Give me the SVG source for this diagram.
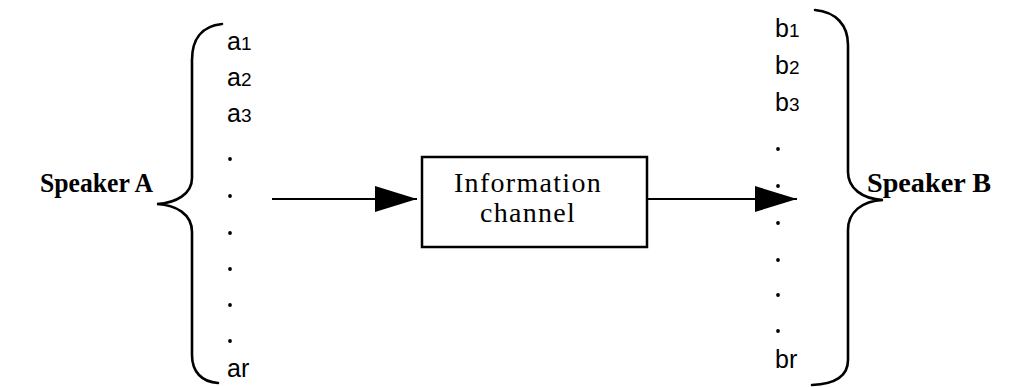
<svg xmlns="http://www.w3.org/2000/svg" width="1022" height="387" viewBox="0 0 1022 387">
<style>
.brace{fill:none;stroke:#000;stroke-width:2.6;stroke-linecap:round}
.item{font-family:"Liberation Sans",Arial,sans-serif;font-size:25px;fill:#000}
.sub{font-size:19px}
.spk{font-family:"Liberation Serif","Times New Roman",serif;font-size:28px;font-weight:bold;fill:#000}
.box{fill:#fff;stroke:#000;stroke-width:2.5}
.lbl{font-family:"Liberation Serif","Times New Roman",serif;font-size:28px;letter-spacing:1.3px;fill:#000;text-anchor:middle}
.edge{stroke:#000;stroke-width:2.2;fill:none}
.dot{fill:#000}
</style>
<defs>
<marker id="ah" viewBox="0 0 42 26" refX="42" refY="13" markerWidth="42" markerHeight="26" markerUnits="userSpaceOnUse" orient="auto">
<path d="M0,0 L42,13 L0,26 z" fill="#000"/>
</marker>
</defs>
<g id="speakerA">
<text class="spk" x="40" y="192" textLength="113" lengthAdjust="spacingAndGlyphs">Speaker A</text>
<path class="brace" d="M222,24 C201,26 192,40 192,60 L192,178 C192,194 176,203 157,204 C176,205 192,214 192,232 L192,355 C192,372 202,382 218,383"/>
<text class="item" x="227" y="50">a<tspan class="sub">1</tspan></text>
<text class="item" x="227" y="86">a<tspan class="sub">2</tspan></text>
<text class="item" x="227" y="122">a<tspan class="sub">3</tspan></text>
<circle class="dot" cx="230" cy="159" r="1.9"/>
<circle class="dot" cx="230" cy="196" r="1.9"/>
<circle class="dot" cx="230" cy="233" r="1.9"/>
<circle class="dot" cx="230" cy="269" r="1.9"/>
<circle class="dot" cx="230" cy="305" r="1.9"/>
<circle class="dot" cx="230" cy="341" r="1.9"/>
<text class="item" x="227" y="377">ar</text>
</g>
<g id="channel">
<rect class="box" x="422" y="157" width="225" height="90"/>
<text class="lbl" x="528" y="192">Information</text>
<text class="lbl" x="528" y="222">channel</text>
</g>
<g id="speakerB">
<text class="item" x="775" y="37">b<tspan class="sub">1</tspan></text>
<text class="item" x="775" y="74">b<tspan class="sub">2</tspan></text>
<text class="item" x="775" y="111">b<tspan class="sub">3</tspan></text>
<circle class="dot" cx="778" cy="149" r="1.9"/>
<circle class="dot" cx="778" cy="186" r="1.9"/>
<circle class="dot" cx="778" cy="223" r="1.9"/>
<circle class="dot" cx="778" cy="260" r="1.9"/>
<circle class="dot" cx="778" cy="295" r="1.9"/>
<circle class="dot" cx="778" cy="331" r="1.9"/>
<text class="item" x="775" y="368">br</text>
<path class="brace" d="M815,10 C836,12 848,25 848,45 L848,172 C848,188 862,199 883,200 C862,201 848,212 848,230 L848,360 C848,376 835,384 812,385"/>
<text class="spk" x="867" y="192" textLength="124" lengthAdjust="spacingAndGlyphs">Speaker  B</text>
</g>
<g id="connectors">
<line class="edge" x1="272" y1="199" x2="417" y2="199" marker-end="url(#ah)"/>
<line class="edge" x1="647" y1="199" x2="797" y2="199" marker-end="url(#ah)"/>
</g>
</svg>
